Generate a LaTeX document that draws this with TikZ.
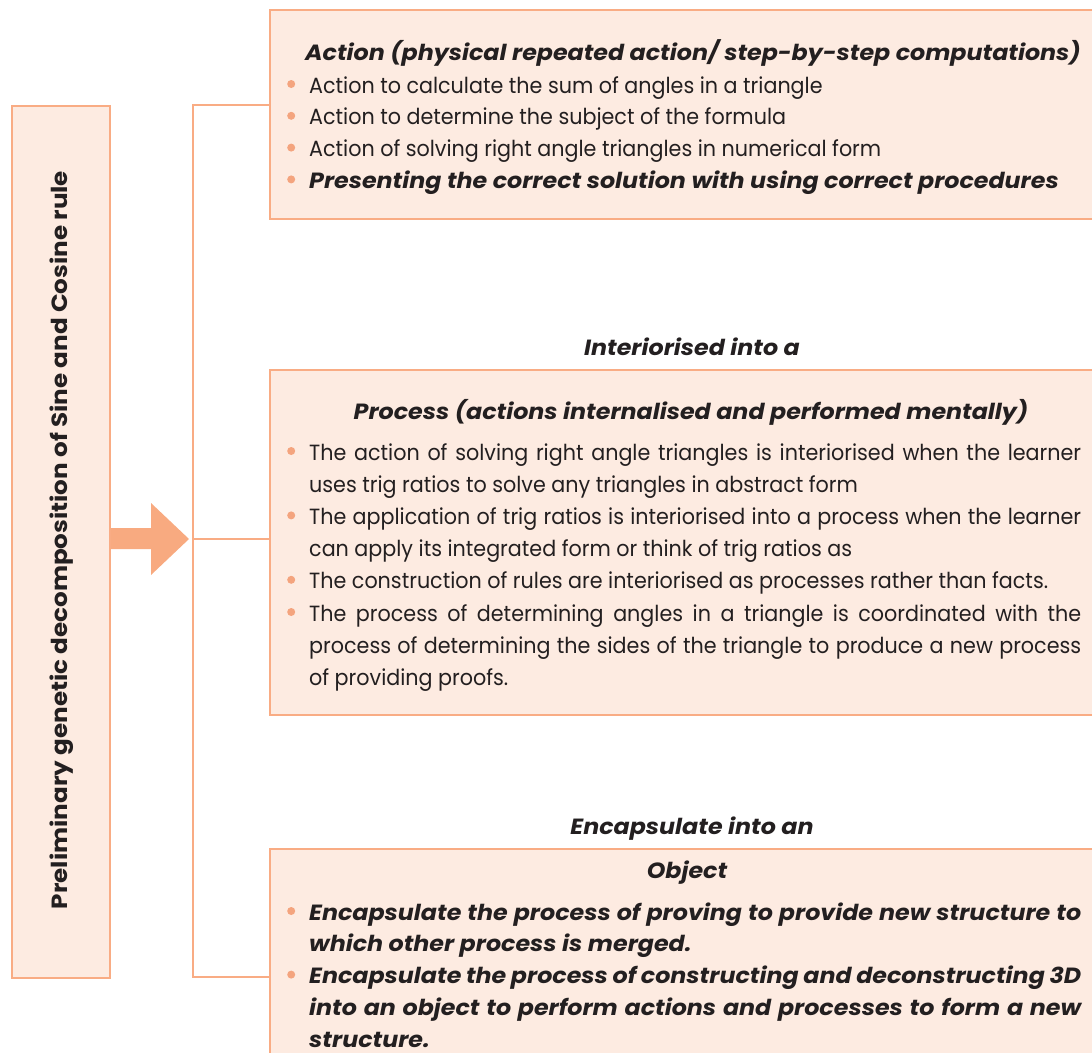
\documentclass[tikz,border=0pt]{standalone}
\usepackage{fontspec}
\setmainfont[FakeStretch=0.94,
  BoldFeatures={FakeStretch=1.12},
  BoldItalicFeatures={FakeStretch=1.08}]{Poppins}
\definecolor{boxfill}{HTML}{FDEBE1}
\definecolor{boxline}{HTML}{F9AC84}
\definecolor{arrowc}{HTML}{F8AA80}
\definecolor{bul}{HTML}{F4A47E}
\definecolor{ink}{HTML}{231F20}
\newcommand\bdot{\makebox[22pt][l]{\raisebox{5pt}{\tikz\fill[bul] (0pt,0pt) circle[radius=4pt];}}}
% bullet line, justified
\newcommand\bj[1]{\hbox to\hsize{\bdot\hbox to\dimexpr\hsize-22pt\relax{#1}}}
% bullet line, natural
\newcommand\bn[1]{\hbox to\hsize{\bdot #1\hfil}}
% continuation, justified
\newcommand\cj[1]{\hbox to\hsize{\hskip22pt\hbox to\dimexpr\hsize-22pt\relax{#1}}}
% continuation, natural
\newcommand\cn[1]{\hbox to\hsize{\hskip22pt #1\hfil}}
\begin{document}
\begin{tikzpicture}[x=1pt,y=-1pt,
  every node/.style={text=ink},
  box/.style={draw=boxline, fill=boxfill, line width=2pt, inner sep=0pt, anchor=north west},
  conn/.style={draw=boxline, line width=2pt},
  hd/.style={font=\fontsize{22}{32}\selectfont\bfseries\itshape, anchor=base, inner sep=0pt},
  lst/.style={font=\fontsize{22}{32}\selectfont, anchor=base west, inner sep=0pt}]
\useasboundingbox (0,0) rectangle (1092,1052);
\begin{scope}
\clip (0,0) rectangle (1092,1052);
% boxes
\node[box, minimum width=98pt, minimum height=872pt] (lb) at (11,105) {};
\node[box, minimum width=840pt, minimum height=209pt] (b1) at (269,9) {};
\node[box, minimum width=840pt, minimum height=345pt] (b2) at (269,369) {};
\node[box, minimum width=840pt, minimum height=230pt] (b3) at (269,848) {};
% bracket
\coordinate (jt) at (193,105);
\coordinate (jm) at (193,539);
\coordinate (jb) at (193,977);
\draw[conn] (b1.west |- jt) -- (jt) -- (jb) -- (b3.west |- jb);
\draw[conn] (jm) -- (b2.west |- jm);
% block arrow
\coordinate (tip) at (189,539);
\fill[arrowc] (lb.east |- 0,528) -- (151,528) -- (151,503) -- (tip) -- (151,575) -- (151,549) -- (lb.east |- 0,549) -- cycle;
\end{scope}
% left label
\node[rotate=90, inner sep=0pt, font=\fontsize{22}{26}\selectfont\bfseries] (lt) at (62,540) {Preliminary genetic decomposition of Sine and Cosine rule};
% action box
\node[hd] (h1) at (693,60) {Action (physical repeated action/ step-by-step computations)};
\node[lst] (l1) at (287,93) {\vtop{\hsize=794pt\baselineskip=31.8pt
\bn{Action to calculate the sum of angles in a triangle}
\bn{Action to determine the subject of the formula}
\bn{Action of solving right angle triangles in numerical form}
\bn{\bfseries\itshape Presenting the correct solution with using correct procedures}}};
% interiorised
\node[hd] (i1) at (692,355) {Interiorised into a};
\node[hd] (h2) at (691,419) {Process (actions internalised and performed mentally)};
\node[lst] (l2) at (287,460) {\vtop{\hsize=794pt\baselineskip=32.2pt
\bj{The action of solving right angle triangles is interiorised when the learner}
\cn{uses trig ratios to solve any triangles in abstract form}
\bj{The application of trig ratios is interiorised into a process when the learner}
\cn{can apply its integrated form or think of trig ratios as}
\bn{The construction of rules are interiorised as processes rather than facts.}
\bj{The process of determining angles in a triangle is coordinated with the}
\cj{process of determining the sides of the triangle to produce a new process}
\cn{of providing proofs.}}};
% encapsulate
\node[hd] (e1) at (692,834) {Encapsulate into an};
\node[hd] (h3) at (687,878) {Object};
\node[lst, font=\fontsize{22}{32}\selectfont\bfseries\itshape] (l3) at (287,920) {\vtop{\hsize=794pt\baselineskip=31.8pt
\bj{Encapsulate the process of proving to provide new structure to}
\cn{which other process is merged.}
\bj{Encapsulate the process of constructing and deconstructing 3D}
\cj{into an object to perform actions and processes to form a new}
\cn{structure.}}};
\end{tikzpicture}
\end{document}
